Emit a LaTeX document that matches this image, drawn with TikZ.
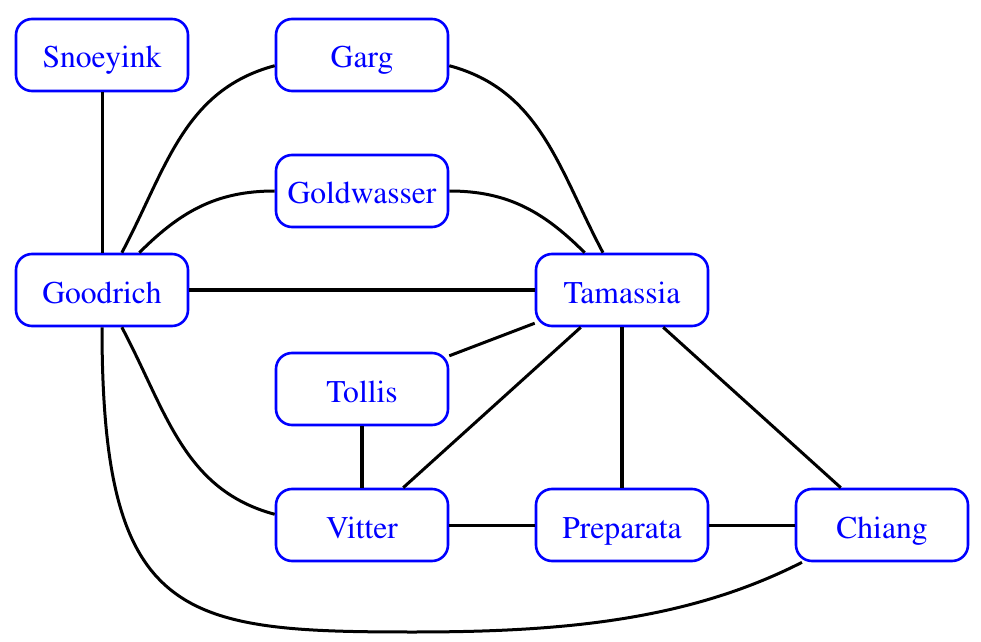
\documentclass[tikz,border=0pt]{standalone}
\usepackage[T1]{fontenc}
\usepackage{times}
\begin{document}
\begin{tikzpicture}[x=0.5pt,y=-0.5pt,
  person/.style={draw=blue, text=blue, line width=1.3pt, rounded corners=8pt,
    minimum width=86pt, minimum height=36pt, inner sep=0pt,
    font=\rmfamily\fontsize{15.8}{19}\selectfont, text height=13pt, text depth=0pt},
  edge/.style={line width=1.5pt, black},
  heavy/.style={line width=2pt, black}]
\useasboundingbox (0,0) rectangle (981,642);
\node[person] (Snoeyink)   at (102,55)  {Snoeyink};
\node[person] (Garg)       at (362,55)  {Garg};
\node[person] (Goldwasser) at (362,191) {Goldwasser};
\node[person] (Goodrich)   at (102,290) {Goodrich};
\node[person] (Tamassia)   at (622,290) {Tamassia};
\node[person] (Tollis)     at (362,389) {Tollis};
\node[person] (Vitter)     at (362,525) {Vitter};
\node[person] (Preparata)  at (622,525) {Preparata};
\node[person] (Chiang)     at (882,525) {Chiang};
\coordinate (low) at (413,632);

\draw[edge] (Snoeyink) -- (Goodrich);
\draw[edge] (Goodrich.62) to[out=62,in=195] (Garg.187);
\draw[edge] (Goodrich.45) to[out=45,in=180] (Goldwasser.west);
\draw[edge] (Garg.353) to[out=-15,in=118] (Tamassia.117);
\draw[edge] (Goldwasser.east) to[out=0,in=135] (Tamassia.135);
\draw[heavy] (Goodrich) -- (Tamassia);
\draw[edge] (Goodrich.-62) to[out=-62,in=165] (Vitter.173);
\draw[edge] (Goodrich.south) .. controls (102,620) and (180,632) .. (low)
  .. controls (560,632) and (687,621) .. (Chiang.205);
\draw[edge] (Tollis) -- (Tamassia);
\draw[edge] (Tamassia) -- (Vitter);
\draw[heavy] (Tamassia) -- (Preparata);
\draw[edge] (Tamassia) -- (Chiang);
\draw[heavy] (Tollis) -- (Vitter);
\draw[edge] (Vitter) -- (Preparata);
\draw[edge] (Preparata) -- (Chiang);
\end{tikzpicture}
\end{document}
